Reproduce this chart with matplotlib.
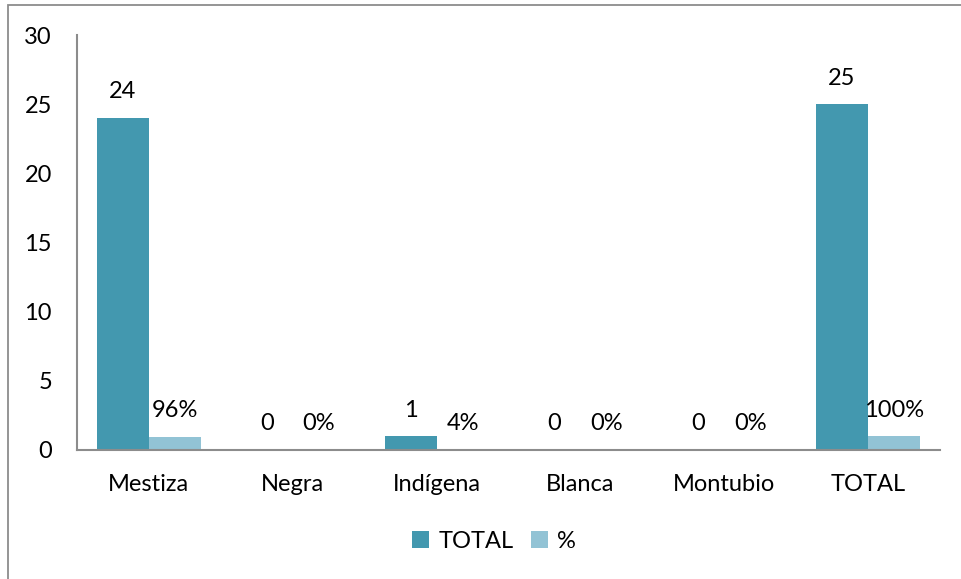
import numpy as np
import matplotlib
matplotlib.use("Agg")
import matplotlib.pyplot as plt
from matplotlib.patches import Rectangle

categories = ["Mestiza", "Negra", "Indígena", "Blanca", "Montubio", "TOTAL"]
total_values = [24, 0, 1, 0, 0, 25]
pct_values = [0.96, 0.0, 0.04, 0.0, 0.0, 1.00]
total_labels = ["24", "0", "1", "0", "0", "25"]
pct_labels = ["96%", "0%", "4%", "0%", "0%", "100%"]
y_ticks = [0, 5, 10, 15, 20, 25, 30]

TEAL = "#4398AF"
LIGHT = "#92C3D5"
GRAY = "#8C8C8C"

plt.rcParams["font.family"] = ["Lato", "DejaVu Sans"]
FS = 17

W, H = 961, 579
fig = plt.figure(figsize=(W / 100, H / 100), dpi=100)
fig.patch.set_facecolor("white")

# outer chart frame (open to the right and bottom)
fig.patches.append(Rectangle((8 / W, -0.2), 1.2, 1 - 5 / H + 0.2,
                             transform=fig.transFigure, fill=False,
                             edgecolor=GRAY, linewidth=1.3))

ax = fig.add_axes([77 / W, 1 - 450 / H, (940 - 77) / W, (450 - 35) / H])

x = np.arange(len(categories))
bw = 0.362
b1 = ax.bar(x - bw / 2, total_values, bw, color=TEAL, label="TOTAL")
b2 = ax.bar(x + bw / 2, pct_values, bw, color=LIGHT, label="%")

off = 26 * 72 / 100
for rect, lab in zip(b1, total_labels):
    ax.annotate(lab, (rect.get_x() + rect.get_width() / 2, rect.get_height()),
                xytext=(0, off), textcoords="offset points",
                ha="center", va="center", fontsize=FS)
for rect, lab in zip(b2, pct_labels):
    ax.annotate(lab, (rect.get_x() + rect.get_width() / 2, rect.get_height()),
                xytext=(0, off), textcoords="offset points",
                ha="center", va="center", fontsize=FS)

ax.set_xlim(-0.5, len(categories) - 0.5)
ax.set_ylim(0, 30)
ax.set_yticks(y_ticks)
ax.set_yticklabels([str(v) for v in y_ticks], fontsize=FS)
ax.set_xticks(x)
ax.set_xticklabels(categories, fontsize=FS)
ax.tick_params(axis="y", length=0, pad=25 * 0.72)
ax.tick_params(axis="x", length=0, pad=24 * 0.72)

for s in ["top", "right"]:
    ax.spines[s].set_visible(False)
for s in ["left", "bottom"]:
    ax.spines[s].set_color(GRAY)
    ax.spines[s].set_linewidth(1.5)

fig.legend(handles=[b1, b2], labels=["TOTAL", "%"], loc="center",
           bbox_to_anchor=(494 / W, 1 - 541 / H), ncol=2, frameon=False,
           fontsize=FS, handlelength=0.7, handleheight=0.7,
           handletextpad=0.4, columnspacing=0.75, borderpad=0.0)

fig.savefig("out.png", dpi=100)
